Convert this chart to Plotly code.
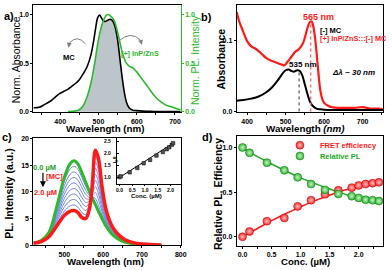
import plotly.graph_objects as go

W, H = 392, 270
def px(x): return x / W
def py(y): return 1 - y / H

FONT = "Arial, Liberation Sans, sans-serif"

# ---------------- Panel a data ----------------
wl_a = [330, 345, 360, 375, 390, 400, 410, 420, 430, 440, 450, 460, 470, 480, 487, 493, 498,
        503, 508, 513, 518, 523, 528, 533, 538, 543, 548, 553, 558, 563, 568, 573, 580, 590,
        600, 615, 630, 645, 660, 675, 690, 705, 715]
abs_mc_a = [0.04, 0.045, 0.075, 0.11, 0.16, 0.19, 0.21, 0.23, 0.26, 0.29, 0.33, 0.39, 0.46, 0.58,
            0.72, 0.87, 0.97, 0.995, 0.965, 0.935, 0.93, 0.94, 0.95, 0.95, 0.93, 0.88, 0.79, 0.65,
            0.48, 0.32, 0.19, 0.10, 0.04, 0.015, 0.01, 0.005, 0.003, 0.002, 0.002, 0.001, 0.001,
            0.0, 0.0]
pl_qd_a = [None, None, None, None, None, None, None, 0.0, 0.003, 0.008, 0.02, 0.06, 0.15, 0.29,
           0.43, 0.57, 0.70, 0.80, 0.88, 0.94, 0.98, 1.0, 1.0, 0.98, 0.96, 0.92, 0.85, 0.77, 0.68,
           0.60, 0.54, 0.50, 0.47, 0.45, 0.41, 0.33, 0.25, 0.17, 0.11, 0.07, 0.05, 0.03, 0.02]
overlap_a = [None if p is None else min(a, p) for a, p in zip(abs_mc_a, pl_qd_a)]

# ---------------- Panel b data ----------------
wl_b_red = [373, 380, 390, 400, 410, 420, 430, 440, 450, 460, 470, 480, 490, 497, 505, 515, 525,
            535, 545, 552, 558, 563, 567, 571, 575, 580, 585, 590, 595, 600, 610, 620, 640, 660,
            680, 700, 720, 740, 753]
abs_b_red = [0.140, 0.126, 0.112, 0.099, 0.092, 0.089, 0.085, 0.080, 0.075, 0.072, 0.070, 0.068,
             0.066, 0.065, 0.070, 0.077, 0.084, 0.088, 0.096, 0.108, 0.120, 0.126, 0.127, 0.122,
             0.110, 0.085, 0.055, 0.030, 0.018, 0.012, 0.008, 0.006, 0.005, 0.005, 0.005, 0.006,
             0.004, 0.004, 0.003]
wl_b_black = [373, 390, 410, 430, 450, 465, 480, 490, 500, 508, 515, 522, 530, 537, 543, 550, 557,
              563, 570, 580, 590, 610, 650, 700, 753]
abs_b_black = [0.015, 0.016, 0.018, 0.021, 0.027, 0.034, 0.044, 0.052, 0.058, 0.059, 0.057, 0.056,
               0.058, 0.057, 0.051, 0.038, 0.024, 0.014, 0.008, 0.004, 0.003, 0.002, 0.002, 0.002,
               0.002]
peak_wl_b = [535, 565]
peak_abs_b = [0.057, 0.127]

# ---------------- Panel c data ----------------
wl_c = [420, 440, 460, 480, 500, 515, 525, 535, 545, 555, 565, 572, 580, 588, 597, 607, 620, 635,
        655, 680, 720, 750]
pl_0uM = [0.4, 0.9, 2.4, 7.2, 12.8, 15.3, 15.8, 15.2, 13.6, 11.8, 10.0, 8.8, 7.6, 6.3, 5.0, 3.6,
          2.3, 1.3, 0.6, 0.25, 0.08, 0.02]
pl_mid = [
    [0.4, 0.88, 2.31, 6.80, 12.0, 14.31, 14.77, 14.19, 12.67, 11.04, 9.67, 9.10, 8.73, 7.40, 5.67, 3.96, 2.49, 1.41, 0.66, 0.27, 0.09, 0.02],
    [0.4, 0.86, 2.22, 6.40, 11.2, 13.32, 13.73, 13.18, 11.73, 10.29, 9.33, 9.40, 9.87, 8.50, 6.33, 4.31, 2.68, 1.52, 0.71, 0.29, 0.10, 0.03],
    [0.4, 0.83, 2.13, 6.00, 10.4, 12.33, 12.70, 12.17, 10.80, 9.53, 9.00, 9.70, 11.0, 9.60, 7.00, 4.67, 2.87, 1.63, 0.77, 0.32, 0.10, 0.03],
    [0.4, 0.81, 2.04, 5.60, 9.6, 11.34, 11.67, 11.16, 9.87, 8.78, 8.67, 10.0, 12.13, 10.70, 7.67, 5.02, 3.06, 1.74, 0.82, 0.34, 0.11, 0.03],
    [0.4, 0.79, 1.96, 5.20, 8.8, 10.35, 10.63, 10.14, 8.93, 8.02, 8.33, 10.30, 13.27, 11.80, 8.33, 5.38, 3.24, 1.86, 0.88, 0.36, 0.12, 0.04],
    [0.4, 0.77, 1.87, 4.80, 8.0, 9.37, 9.60, 9.13, 8.00, 7.27, 8.00, 10.60, 14.40, 12.90, 9.00, 5.73, 3.43, 1.97, 0.93, 0.38, 0.13, 0.04],
    [0.4, 0.74, 1.78, 4.40, 7.2, 8.38, 8.57, 8.12, 7.07, 6.51, 7.67, 10.90, 15.53, 14.00, 9.67, 6.09, 3.62, 2.08, 0.99, 0.41, 0.13, 0.04],
    [0.4, 0.72, 1.69, 4.00, 6.4, 7.39, 7.53, 7.11, 6.13, 5.76, 7.33, 11.20, 16.67, 15.10, 10.33, 6.44, 3.81, 2.19, 1.04, 0.43, 0.14, 0.04],
]
pl_2uM = [0.4, 0.7, 1.6, 3.6, 5.6, 6.4, 6.5, 6.1, 5.2, 5.0, 7.0, 11.5, 17.8, 16.2, 11.0, 6.8, 4.0,
          2.3, 1.1, 0.45, 0.15, 0.05]

# inset
conc_inset = [0.0, 0.05, 0.4, 0.7, 0.95, 1.2, 1.45, 1.7, 1.85, 1.95, 2.05, 2.1]
i0_over_i = [1.0, 1.03, 1.2, 1.38, 1.58, 1.72, 1.9, 2.05, 2.17, 2.25, 2.35, 2.42]
fit_inset_x = [0.0, 2.12]
fit_inset_y = [0.98, 2.43]

# ---------------- Panel d data ----------------
conc_d = [0, 0.12, 0.42, 0.72, 0.95, 1.18, 1.42, 1.65, 1.88, 2.0, 2.12, 2.24, 2.35]
rel_pl_d = [1.0, 0.94, 0.83, 0.745, 0.665, 0.59, 0.525, 0.48, 0.455, 0.435, 0.415, 0.41, 0.40]
fret_d = [0.0, 0.06, 0.175, 0.21, 0.34, 0.41, 0.475, 0.52, 0.55, 0.575, 0.59, 0.60, 0.61]
fit_x_d = [0, 0.25, 0.5, 0.75, 1.0, 1.25, 1.5, 1.75, 2.0, 2.35]
fit_pl_d = [0.99, 0.90, 0.815, 0.735, 0.66, 0.595, 0.535, 0.48, 0.43, 0.385]
fit_fret_d = [0.0, 0.09, 0.18, 0.26, 0.335, 0.405, 0.465, 0.52, 0.565, 0.615]

GREEN = "#2DB82D"
RED = "#FF1A1A"
BLUE = "#6F86E0"

fig = go.Figure()

# Panel a
fig.add_trace(go.Scatter(x=wl_a, y=overlap_a, mode="lines", line=dict(width=0),
                         fill="tozeroy", fillcolor="#BCC6CA", xaxis="x", yaxis="y", showlegend=False))
fig.add_trace(go.Scatter(x=wl_a, y=abs_mc_a, mode="lines", line=dict(color="black", width=1.6, shape="spline"),
                         xaxis="x", yaxis="y", showlegend=False))
fig.add_trace(go.Scatter(x=wl_a, y=pl_qd_a, mode="lines", line=dict(color=GREEN, width=1.6, shape="spline"),
                         xaxis="x", yaxis="y2", showlegend=False))

# Panel b
fig.add_trace(go.Scatter(x=wl_b_red, y=abs_b_red, mode="lines", line=dict(color=RED, width=2.2, shape="spline"),
                         xaxis="x2", yaxis="y3", showlegend=False))
fig.add_trace(go.Scatter(x=wl_b_black, y=abs_b_black, mode="lines", line=dict(color="black", width=2, shape="spline"),
                         xaxis="x2", yaxis="y3", showlegend=False))

# Panel c
for ys in pl_mid:
    fig.add_trace(go.Scatter(x=wl_c, y=ys, mode="lines", line=dict(color=BLUE, width=1, shape="spline"),
                             xaxis="x3", yaxis="y4", showlegend=False))
fig.add_trace(go.Scatter(x=wl_c, y=pl_0uM, mode="lines", line=dict(color=GREEN, width=3, shape="spline"),
                         xaxis="x3", yaxis="y4", showlegend=False))
fig.add_trace(go.Scatter(x=wl_c, y=pl_2uM, mode="lines", line=dict(color=RED, width=3.5, shape="spline"),
                         xaxis="x3", yaxis="y4", showlegend=False))
# inset
fig.add_trace(go.Scatter(x=fit_inset_x, y=fit_inset_y, mode="lines", line=dict(color="black", width=1),
                         xaxis="x5", yaxis="y6", showlegend=False))
fig.add_trace(go.Scatter(x=conc_inset, y=i0_over_i, mode="markers",
                         marker=dict(color="#555", size=3.5, symbol="square", line=dict(color="black", width=0.5)),
                         xaxis="x5", yaxis="y6", showlegend=False))

# Panel d
fig.add_trace(go.Scatter(x=fit_x_d, y=fit_fret_d, mode="lines", line=dict(color=RED, width=1.5, shape="spline"),
                         xaxis="x4", yaxis="y5", showlegend=False))
fig.add_trace(go.Scatter(x=fit_x_d, y=fit_pl_d, mode="lines", line=dict(color="#22AA22", width=1.5, shape="spline"),
                         xaxis="x4", yaxis="y5", showlegend=False))
fig.add_trace(go.Scatter(x=conc_d, y=fret_d, mode="markers", name="FRET efficiency",
                         marker=dict(color="#FF2A2A", size=8, gradient=dict(type="radial", color="#FFC0C0"),
                                     line=dict(color="#B00000", width=0.5)),
                         xaxis="x4", yaxis="y5", legend="legend"))
fig.add_trace(go.Scatter(x=conc_d, y=rel_pl_d, mode="markers", name="Relative PL",
                         marker=dict(color="#2EB82E", size=8, gradient=dict(type="radial", color="#C8F0C8"),
                                     line=dict(color="#107010", width=0.5)),
                         xaxis="x4", yaxis="y5", legend="legend2"))

tickfont = dict(family=FONT, size=7, color="black", weight="bold")
def axis_common(**kw):
    d = dict(showline=True, linecolor="black", linewidth=1, mirror=True, ticks="outside",
             ticklen=2, tickwidth=1, tickcolor="black", showgrid=False, zeroline=False,
             tickfont=tickfont)
    d.update(kw)
    return d

MINOR = dict(ticklen=1.5, ticks="outside", tickcolor="black")
INSET_FONT = dict(family=FONT, size=5, color="black", weight="bold")

fig.update_layout(
    width=W, height=H, margin=dict(l=0, r=0, t=0, b=0),
    paper_bgcolor="white", plot_bgcolor="white",
    font=dict(family=FONT),
    xaxis=axis_common(domain=[px(33), px(183)], range=[330, 715], dtick=100, anchor="y",
                      minor=dict(dtick=50, **MINOR)),
    yaxis=axis_common(domain=[py(111), py(1)], range=[-0.005, 1.1], dtick=0.5, tickformat=".1f",
                      anchor="x", mirror=False),
    yaxis2=axis_common(domain=[py(111), py(1)], range=[-0.005, 1.1], dtick=0.5, tickformat=".1f",
                       overlaying="y", side="right", anchor="x", linecolor=GREEN, tickcolor=GREEN,
                       mirror=False, tickfont=dict(family=FONT, size=7, color=GREEN, weight="bold")),
    xaxis2=axis_common(domain=[px(240), px(389)], range=[373, 753], dtick=100, anchor="y3",
                       minor=dict(dtick=50, **MINOR)),
    yaxis3=axis_common(domain=[py(111), py(1)], range=[-0.001, 0.15], tickvals=[0, 0.1],
                       tickformat=".1f", anchor="x2"),
    xaxis3=axis_common(domain=[px(33), px(183)], range=[420, 800], dtick=100, anchor="y4",
                       minor=dict(dtick=50, **MINOR)),
    yaxis4=axis_common(domain=[py(247.7), py(138)], range=[0, 20], dtick=5, anchor="x3"),
    xaxis4=axis_common(domain=[px(240), px(389)], range=[-0.1, 2.42], dtick=0.5, tickformat=".1f",
                       anchor="y5", minor=dict(dtick=0.25, **MINOR)),
    yaxis5=axis_common(domain=[py(248.5), py(136)], range=[-0.104, 1.123], dtick=0.5, tickformat=".1f",
                       anchor="x4"),
    xaxis5=axis_common(domain=[px(118), px(183)], range=[-0.1, 2.4], dtick=0.5, tickformat=".1f",
                       anchor="y6", ticklen=1, tickfont=INSET_FONT),
    yaxis6=axis_common(domain=[py(185), py(138)], range=[0.7, 2.62], dtick=0.5, tickformat=".1f",
                       anchor="x5", ticks="inside", ticklen=2, ticklabelstandoff=4,
                       tickfont=INSET_FONT),
    legend=dict(x=px(284), y=py(145), xanchor="left", yanchor="middle", bgcolor="rgba(0,0,0,0)",
                font=dict(family=FONT, size=7.5, color=RED, weight="bold"), itemwidth=30,
                tracegroupgap=0),
    legend2=dict(x=px(284), y=py(156), xanchor="left", yanchor="middle", bgcolor="rgba(0,0,0,0)",
                 font=dict(family=FONT, size=7.5, color="#22AA22", weight="bold"), itemwidth=30,
                 tracegroupgap=0),
)

def txt(x, y, s, size=10, color="black", bold=True, angle=0, italic=False, xanchor="center"):
    fig.add_annotation(x=px(x), y=py(y), xref="paper", yref="paper", text=s, showarrow=False,
                       textangle=angle, xanchor=xanchor, yanchor="middle", borderpad=0,
                       font=dict(family=FONT, size=size, color=color,
                                 weight="bold" if bold else "normal",
                                 style="italic" if italic else "normal"))

def arrow(head, tail, color, width=1):
    fig.add_annotation(x=px(head[0]), y=py(head[1]), xref="paper", yref="paper",
                       ax=tail[0] - head[0], ay=tail[1] - head[1], axref="pixel", ayref="pixel",
                       text="", showarrow=True, arrowhead=2, arrowsize=1, arrowwidth=width,
                       arrowcolor=color)

# panel labels
txt(8, 12, "a)", 11)
txt(209, 13, "b)", 11)
txt(6, 137, "c)", 11)
txt(210, 137, "d)", 11)

# panel a
txt(15, 57, "Norm. Absorbance", 10.5, bold=False, angle=-90)
txt(197, 57, "Norm. PL. Intensity", 10.5, color=GREEN, bold=False, angle=-90)
txt(106, 128, "Wavelength (nm)", 9.8)
txt(69, 55, "MC", 7.5)
txt(141.5, 50.5, "[+] InP/ZnS", 7.2, color=GREEN)
GRAY = "#7F7F7F"
def pt(x, y): return f"{px(x)},{py(y)}"
fig.add_shape(type="path", xref="paper", yref="paper",
              path=f"M {pt(86, 41)} Q {pt(78, 31)} {pt(69.5, 40)}", line=dict(color=GRAY, width=1))
arrow((68.8, 45), (69.5, 40), GRAY)
fig.add_shape(type="path", xref="paper", yref="paper",
              path=f"M {pt(120, 38)} Q {pt(132, 27)} {pt(142, 37)}", line=dict(color=GRAY, width=1))
arrow((143.5, 42), (142, 37), GRAY)

# panel b
txt(224, 57, "Absorbance", 10.5, angle=-90)
txt(310, 128, "Wavelength <i>(nm)</i>", 9.8)
txt(323, 13, f"{peak_wl_b[1]} nm", 9, color=RED)
txt(307, 62, f"{peak_wl_b[0]} nm", 8)
txt(324, 27, "[-] MC", 7.5, xanchor="left")
txt(324, 35.5, "[+] InP/ZnS:::[-] MC", 7.3, color=RED, xanchor="left")
txt(359, 70.5, "Δλ ~ 30 nm", 8, italic=True)
fig.add_shape(type="line", xref="x2", yref="y3", x0=peak_wl_b[0], x1=peak_wl_b[0], y0=0,
              y1=peak_abs_b[0], line=dict(color="#333333", width=1, dash="dot"))
fig.add_shape(type="line", xref="x2", yref="y3", x0=peak_wl_b[1], x1=peak_wl_b[1], y0=0,
              y1=peak_abs_b[1], line=dict(color="#FF7070", width=1.5, dash="dot"))

# panel c
txt(8, 195, "PL. Intensity (a.u.)", 10.5, angle=-90)
txt(106, 264.3, "Wavelength (nm)", 9.6)
txt(44, 168, "0.0 µM", 7.5, color="#1E9E1E")
txt(54, 177.5, "[MC]", 7.5, color=RED)
txt(45, 193.5, "2.0 µM", 7.5, color=RED)
arrow((42.7, 188), (42.7, 172), "black", 1.2)
txt(116.5, 160, "I<sub>0</sub>/I", 5.5, angle=-90)
txt(148, 197, "Conc. (µM)", 6)

# panel d
txt(221, 195, "Relative PL, Efficiency", 10.5, angle=-90)
txt(310, 264.3, "Conc. (µM)", 9.6)

fig.write_html("out.html", config={"displayModeBar": False},
               post_script="document.body.style.margin='0';document.body.style.overflow='hidden';")
